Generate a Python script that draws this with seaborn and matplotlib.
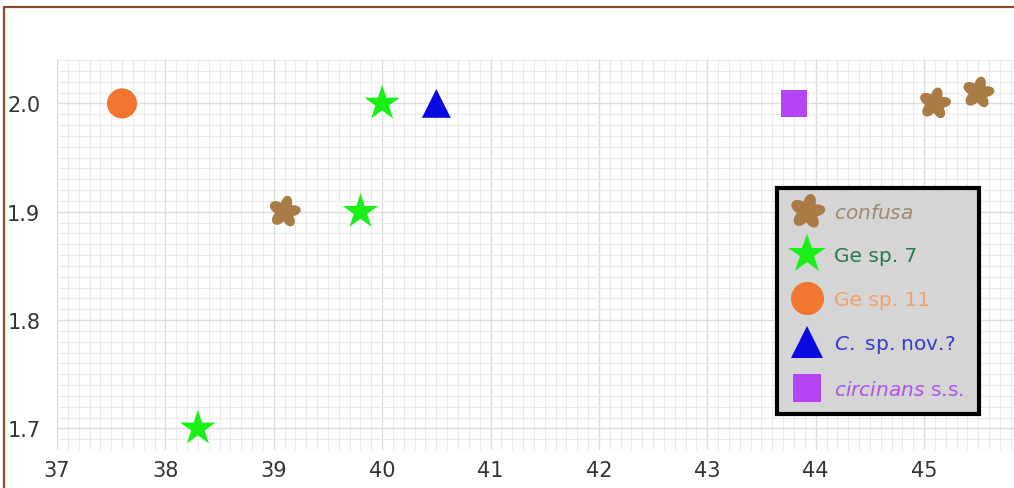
import numpy as np
import pandas as pd
import matplotlib
matplotlib.use("Agg")
import matplotlib.pyplot as plt
from matplotlib.path import Path
from matplotlib.patches import Rectangle
from matplotlib.ticker import MultipleLocator
import seaborn as sns

# ---- data ----
species = ["confusa", "confusa", "confusa", "Ge sp. 7", "Ge sp. 7", "Ge sp. 7",
           "Ge sp. 11", "C. sp. nov.?", "circinans s.s."]
x_vals = [39.1, 45.1, 45.5, 40.0, 39.8, 38.3, 37.6, 40.5, 43.8]
y_vals = [1.9, 2.0, 2.01, 2.0, 1.9, 1.7, 2.0, 2.0, 2.0]
order = ["confusa", "Ge sp. 7", "Ge sp. 11", "C. sp. nov.?", "circinans s.s."]
legend_labels = [r"$\mathit{confusa}$", "Ge sp. 7", "Ge sp. 11",
                 r"$\mathit{C.}$ sp. nov.?", r"$\mathit{circinans}$ s.s."]
colors = {"confusa": "#a97b45", "Ge sp. 7": "#18f018", "Ge sp. 11": "#f27530",
          "C. sp. nov.?": "#0a0ae0", "circinans s.s.": "#b444f4"}
text_colors = ["#a08a70", "#2a7a50", "#f0a070", "#3a3ad0", "#b055f0"]

# blob marker (gingerbread-like, 5 chunky lobes)
th = np.linspace(0, 2 * np.pi, 300)
lobe = (np.cos(5 * (th - np.deg2rad(80)) + 0.35 * np.sin(th)) + 1) / 2
r = 0.6 + 0.4 * lobe ** 0.6
verts = np.column_stack([r * np.cos(th), r * np.sin(th)])
verts[-1] = verts[0]
codes = [Path.MOVETO] + [Path.LINETO] * (len(verts) - 2) + [Path.CLOSEPOLY]
blob = Path(verts, codes)

markers = {"confusa": blob, "Ge sp. 7": "*", "Ge sp. 11": "o",
           "C. sp. nov.?": "^", "circinans s.s.": "s"}
sizes = {"confusa": 540, "Ge sp. 7": 720, "Ge sp. 11": 470,
         "C. sp. nov.?": 430, "circinans s.s.": 360}

df = pd.DataFrame({"x": x_vals, "y": y_vals, "species": species})

sns.set_style("white")
plt.rcParams["font.family"] = ["DejaVu Sans"]
plt.rcParams["mathtext.fontset"] = "dejavusans"

fig = plt.figure(figsize=(10.14, 4.89), dpi=100)
ax = fig.add_axes([57 / 1014, 1 - 451 / 489, 1 - 57 / 1014, (451 - 60) / 489])

sns.scatterplot(data=df, x="x", y="y", hue="species", style="species", size="species",
                hue_order=order, style_order=order, size_order=order,
                palette=colors, markers=markers, sizes=sizes, linewidth=0,
                ax=ax, legend="full", zorder=3)

ax.set_xlim(37, 45.83)
ax.set_ylim(1.68, 2.041)
ax.xaxis.set_major_locator(MultipleLocator(1))
ax.xaxis.set_minor_locator(MultipleLocator(0.1))
ax.yaxis.set_major_locator(MultipleLocator(0.1))
ax.yaxis.set_minor_locator(MultipleLocator(0.01))
ax.grid(which="major", color="#dcdcdc", linewidth=1.0, zorder=0)
ax.grid(which="minor", color="#ebebeb", linewidth=0.8, zorder=0)
ax.set_axisbelow(True)
for s in ax.spines.values():
    s.set_visible(False)
ax.tick_params(which="both", length=0, labelsize=15, colors="#333333")
ax.tick_params(axis="y", pad=12)
ax.tick_params(axis="x", pad=7)
ax.set_xlabel("")
ax.set_ylabel("")
ax.yaxis.set_major_formatter(matplotlib.ticker.FormatStrFormatter("%.1f"))

handles, labels = ax.get_legend_handles_labels()
hmap = dict(zip(labels, handles))
hs = [hmap[k] for k in order]
leg = ax.legend(hs, legend_labels, loc="lower left",
                bbox_to_anchor=(0.752, 0.092), fontsize=14.5,
                frameon=True, fancybox=False, framealpha=1,
                facecolor="#d5d5d5", edgecolor="black",
                labelspacing=1.22, handletextpad=0.6, borderpad=0.75,
                handlelength=1.5, borderaxespad=0, markerscale=1.1)
leg.get_frame().set_linewidth(3)
for t, c in zip(leg.get_texts(), text_colors):
    t.set_color(c)

# brown outer frame
fig.add_artist(Rectangle((4 / 1014, -0.1), 1.2, 1 - 8 / 489 + 0.1,
                         transform=fig.transFigure, fill=False,
                         edgecolor="#8b4a2a", linewidth=1.6))

fig.savefig("out.png", dpi=100)
